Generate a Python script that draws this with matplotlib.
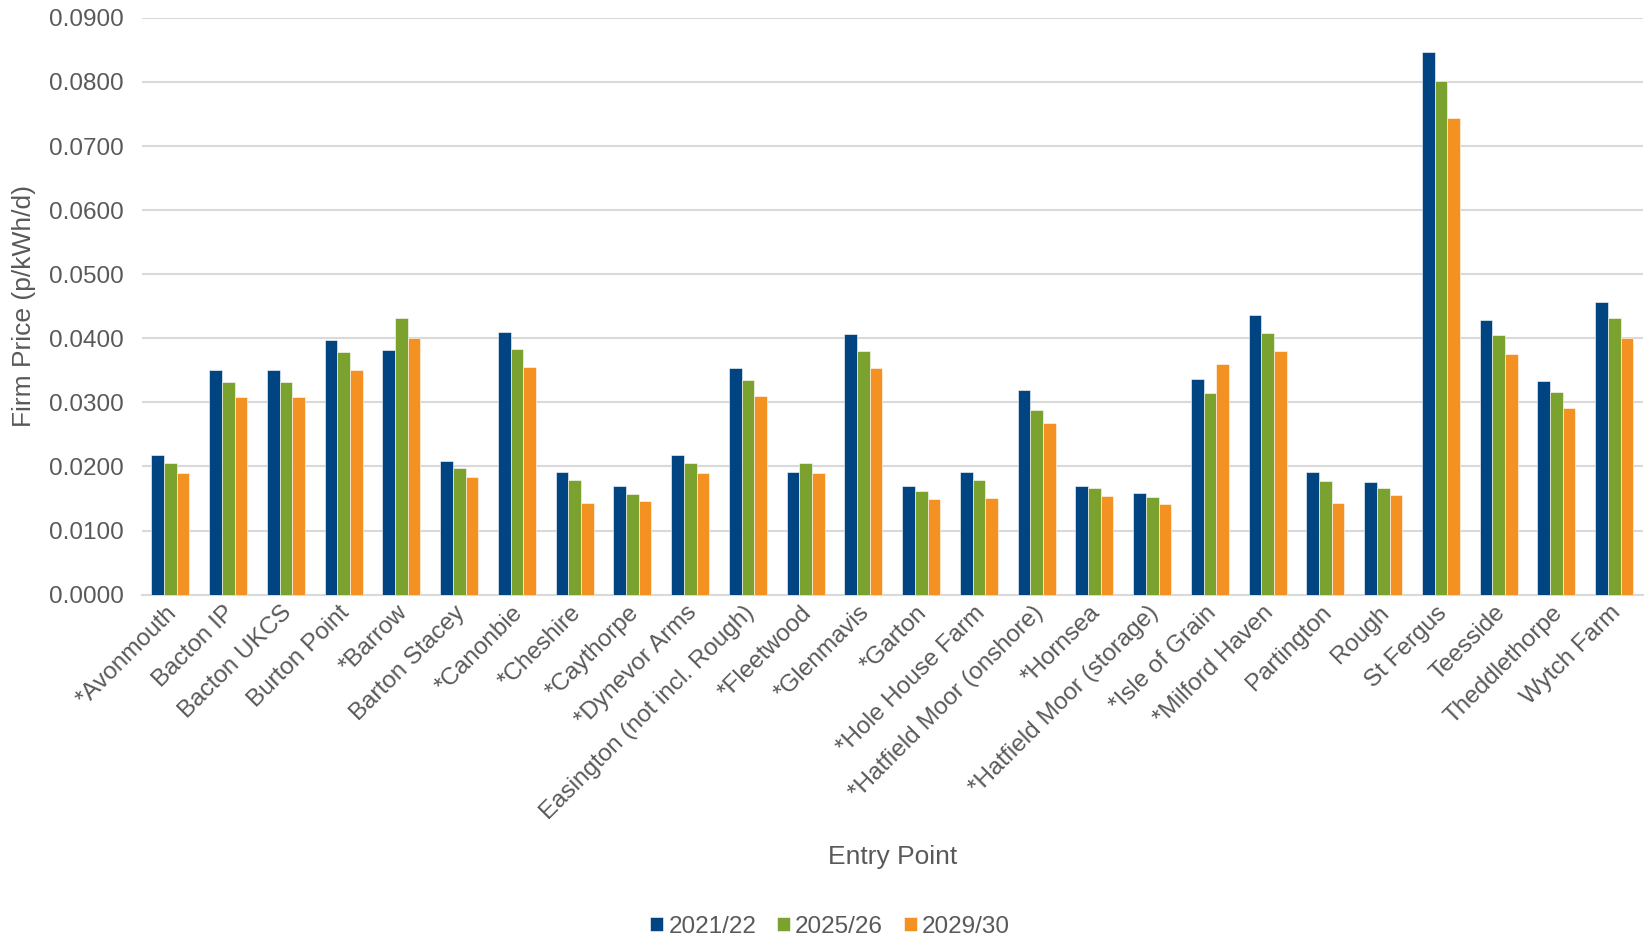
import matplotlib
matplotlib.use('Agg')
import matplotlib.pyplot as plt
import matplotlib.transforms as mtransforms
import numpy as np

# Entry points and firm prices (p/kWh/d)
entry_points = ['*Avonmouth', 'Bacton IP', 'Bacton UKCS', 'Burton Point', '*Barrow',
                'Barton Stacey', '*Canonbie', '*Cheshire', '*Caythorpe', '*Dynevor Arms',
                'Easington (not incl. Rough)', '*Fleetwood', '*Glenmavis', '*Garton',
                '*Hole House Farm', '*Hatfield Moor (onshore)', '*Hornsea',
                '*Hatfield Moor (storage)', '*Isle of Grain', '*Milford Haven', 'Partington',
                'Rough', 'St Fergus', 'Teesside', 'Theddlethorpe', 'Wytch Farm']
price_2021 = [0.0218, 0.0351, 0.0351, 0.0398, 0.0381, 0.0209, 0.0410, 0.0191, 0.0169, 0.0218,
              0.0353, 0.0191, 0.0406, 0.0169, 0.0191, 0.0320, 0.0169, 0.0159, 0.0336, 0.0436,
              0.0191, 0.0176, 0.0847, 0.0428, 0.0334, 0.0456]
price_2025 = [0.0205, 0.0332, 0.0332, 0.0378, 0.0432, 0.0198, 0.0384, 0.0179, 0.0157, 0.0205,
              0.0335, 0.0205, 0.0380, 0.0161, 0.0179, 0.0288, 0.0166, 0.0152, 0.0314, 0.0409,
              0.0178, 0.0167, 0.0802, 0.0405, 0.0316, 0.0432]
price_2029 = [0.0190, 0.0308, 0.0308, 0.0350, 0.0401, 0.0183, 0.0356, 0.0143, 0.0146, 0.0190,
              0.0310, 0.0190, 0.0353, 0.0149, 0.0151, 0.0268, 0.0154, 0.0141, 0.0360, 0.0380,
              0.0143, 0.0155, 0.0743, 0.0376, 0.0292, 0.0400]
series_names = ['2021/22', '2025/26', '2029/30']

colors = ['#004481', '#7BA12F', '#F39122']
txt = '#595959'
plt.rcParams['font.family'] = ['Liberation Sans', 'DejaVu Sans']

fig = plt.figure(figsize=(16.5, 9.38), dpi=100)
ax = fig.add_axes((0.0858, 0.366, 0.910, 0.615))

x = np.arange(len(entry_points))
w = 0.219
for i, (vals, name) in enumerate(zip([price_2021, price_2025, price_2029], series_names)):
    ax.bar(x + (i - 1) * w, vals, width=w, color=colors[i], label=name,
           edgecolor='white', linewidth=0.4, zorder=3)

ax.set_xlim(-0.5, len(entry_points) - 0.5)
ax.set_ylim(0, 0.09)
ax.set_yticks(np.arange(0, 0.0901, 0.01))
ax.yaxis.set_major_formatter(matplotlib.ticker.FormatStrFormatter('%.4f'))
ax.grid(axis='y', color='#d9d9d9', linewidth=1.5, zorder=0)
for s in ['top', 'right', 'left']:
    ax.spines[s].set_visible(False)
ax.spines['bottom'].set_color('#d9d9d9')
ax.spines['bottom'].set_linewidth(1.5)
ax.tick_params(axis='both', length=0, labelsize=17.5, labelcolor=txt)
ax.tick_params(axis='y', pad=13)
ax.tick_params(axis='x', pad=5)
ax.set_xticks(x)
ax.set_xticklabels(entry_points, rotation=45, ha='right', rotation_mode='anchor')
# nudge the slanted labels a little to the left, like the original
shift = mtransforms.ScaledTranslation(-5 / 100, 0, fig.dpi_scale_trans)
for lbl in ax.get_xticklabels():
    lbl.set_transform(lbl.get_transform() + shift)

ax.set_ylabel('Firm Price (p/kWh/d)', fontsize=19, color=txt, labelpad=9)
ax.set_xlabel('Entry Point', fontsize=19, color=txt)
ax.xaxis.set_label_coords(0.5, -0.434)

fig.legend(loc='center', bbox_to_anchor=(0.503, 0.012), ncol=3, frameon=False,
           fontsize=17.5, labelcolor=txt, handlelength=0.55, handleheight=0.55,
           handletextpad=0.2, columnspacing=0.85)

fig.savefig('out.png', dpi=100)
